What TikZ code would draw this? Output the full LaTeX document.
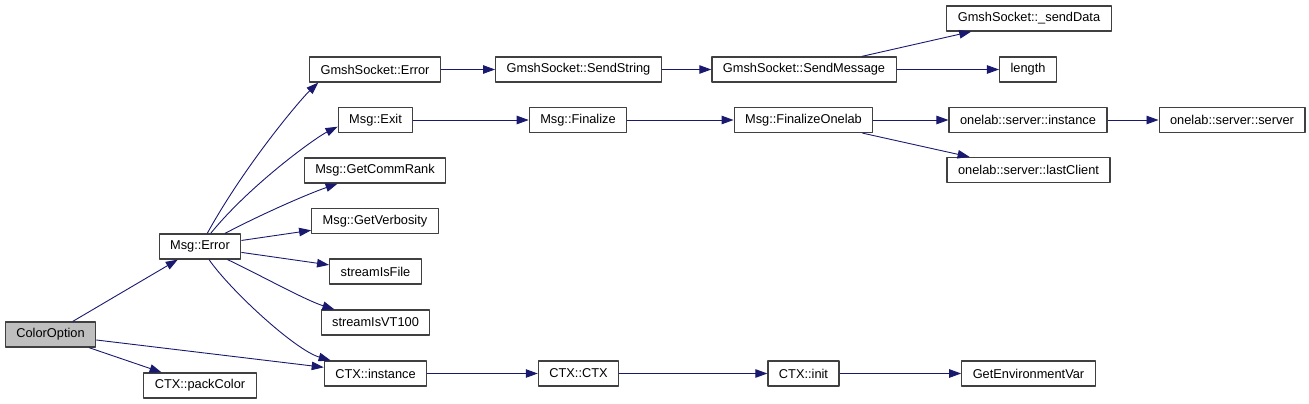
\documentclass[tikz,border=0pt]{standalone}
\usepackage{fontspec}
\setmainfont{Liberation Sans}
\definecolor{ink}{HTML}{000000}
\definecolor{boxline}{HTML}{404040}
\definecolor{callblue}{HTML}{191970}
\definecolor{rootgray}{HTML}{BFBFBF}
\newcommand{\figfontsize}{\fontsize{12.8}{15}\selectfont}
\tikzset{
  every picture/.style = {font=\figfontsize, line join=round},
  fn/.style    = {draw=boxline, line width=1.2pt, fill=white, text=ink,
                  rectangle, minimum height=25pt, inner xsep=11pt, inner ysep=0pt},
  rootfn/.style = {fn, fill=rootgray},
  call/.style  = {callblue, line width=0.9pt,
                  -{Triangle[length=12pt, width=8.5pt]}},
}
\usetikzlibrary{arrows.meta}

\begin{document}
\begin{tikzpicture}[x=1pt, y=-1pt]
  % pixel frame of the call graph: y grows downwards
  \useasboundingbox (0,0) rectangle (1309,404);

  % --- functions, one column per call depth ---------------------------------
  \node[rootfn] (colopt)    at (50.5,334.5) {ColorOption};

  \node[fn] (msgerr)    at (200,246.5)  {Msg::Error};
  \node[fn] (packcol)   at (200,385.5)  {CTX::packColor};

  \node[fn] (gserr)     at (375,69.5)   {GmshSocket::Error};
  \node[fn] (msgexit)   at (375.5,120)  {Msg::Exit};
  \node[fn] (commrank)  at (375,170.5)  {Msg::GetCommRank};
  \node[fn] (verbosity) at (375,221)    {Msg::GetVerbosity};
  \node[fn] (isfile)    at (375.5,271.5){streamIsFile};
  \node[fn] (isvt)      at (375.5,322.5){streamIsVT100};
  \node[fn] (ctxinst)   at (375.5,373.5){CTX::instance};

  \node[fn] (sendstr)   at (578.5,69.5) {GmshSocket::SendString};
  \node[fn] (finalize)  at (578,120)    {Msg::Finalize};
  \node[fn] (ctxctx)    at (578.5,373.5){CTX::CTX};

  \node[fn] (sendmsg)   at (804,69.5)   {GmshSocket::SendMessage};
  \node[fn] (finonelab) at (803.5,120)  {Msg::FinalizeOnelab};
  \node[fn] (ctxinit)   at (803.5,373.5){CTX::init};

  \node[fn] (senddata)  at (1029,18.5)  {GmshSocket::\_sendData};
  \node[fn] (length)    at (1028,69.5)  {length};
  \node[fn] (srvinst)   at (1028,120)   {onelab::server::instance};
  \node[fn] (lastcl)    at (1028.5,170) {onelab::server::lastClient};
  \node[fn] (getenv)    at (1028.5,373.5){GetEnvironmentVar};

  \node[fn] (srvsrv)    at (1232,120)   {onelab::server::server};

  % --- calls from the root --------------------------------------------------
  \draw[call] (colopt) -- (msgerr);
  \draw[call] (colopt) -- (packcol);
  \draw[call] (colopt) -- (ctxinst);

  % --- calls from Msg::Error (fanned out, outer ones bent) -------------------
  \draw[call] (msgerr) .. controls (245,165) and (300,100) .. (gserr.193);
  \draw[call] (msgerr) .. controls (250,185) and (315,138) .. (msgexit.190);
  \draw[call] (msgerr) .. controls (260,215) and (305,195) .. (commrank);
  \draw[call] (msgerr) -- (verbosity);
  \draw[call] (msgerr) -- (isfile);
  \draw[call] (msgerr) .. controls (260,275) and (305,300) .. (isvt);
  \draw[call] (msgerr) .. controls (230,290) and (295,350) .. (ctxinst);

  % --- the rest of the chains -----------------------------------------------
  \draw[call] (gserr) -- (sendstr);
  \draw[call] (sendstr) -- (sendmsg);
  \draw[call] (sendmsg) -- (senddata);
  \draw[call] (sendmsg) -- (length);
  \draw[call] (msgexit) -- (finalize);
  \draw[call] (finalize) -- (finonelab);
  \draw[call] (finonelab) -- (srvinst);
  \draw[call] (finonelab) -- (lastcl);
  \draw[call] (srvinst) -- (srvsrv);
  \draw[call] (ctxinst) -- (ctxctx);
  \draw[call] (ctxctx) -- (ctxinit);
  \draw[call] (ctxinit) -- (getenv);
\end{tikzpicture}
\end{document}
